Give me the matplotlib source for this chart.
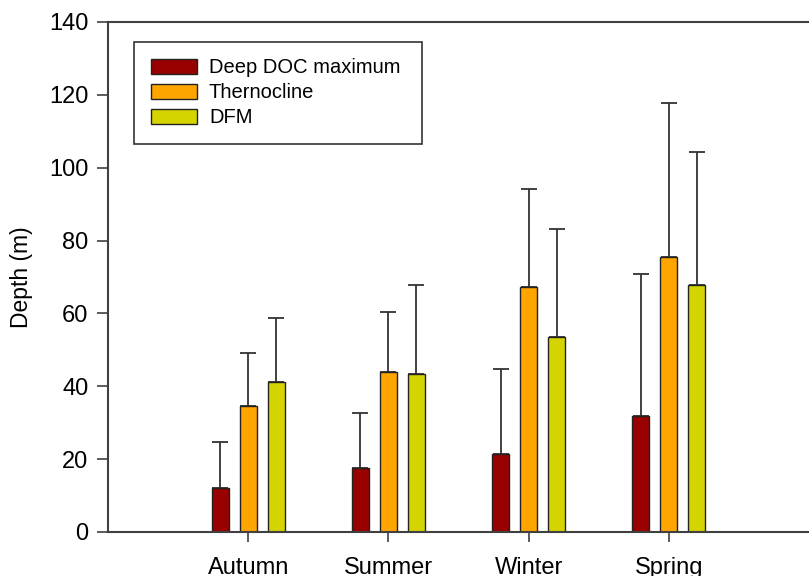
import matplotlib.pyplot as plt
import numpy as np

plt.rcParams['font.family'] = ['Liberation Sans', 'DejaVu Sans']

seasons = ['Autumn', 'Summer', 'Winter', 'Spring']
series = ['Deep DOC maximum', 'Thernocline', 'DFM']
colors = ['#990000', '#FFA500', '#D4D400']

# mean depth and upper end of the error bar (m)
means = [
    [12.2, 17.7, 21.5, 31.9],
    [34.7, 43.9, 67.3, 75.4],
    [41.3, 43.3, 53.6, 67.7],
]
upper = [
    [24.7, 32.7, 44.8, 70.8],
    [49.2, 60.5, 94.1, 117.7],
    [58.8, 67.9, 83.2, 104.2],
]

fig = plt.figure(figsize=(8.09, 5.76), dpi=100)
ax = fig.add_axes([108 / 809, 44 / 576, 701 / 809, 510 / 576])

x = np.arange(1, len(seasons) + 1)
width = 0.12
offsets = [-0.2, 0.0, 0.2]

for i in range(len(series)):
    m = np.array(means[i])
    err = np.array(upper[i]) - m
    ax.bar(x + offsets[i], m, width, color=colors[i], edgecolor='#222222',
           linewidth=1.0, label=series[i], zorder=2)
    ax.errorbar(x + offsets[i], m, yerr=[np.zeros_like(err), err], fmt='none',
                ecolor='#333333', elinewidth=1.3, capsize=5.5, capthick=1.3, zorder=1)

ax.set_xlim(0, 5)
ax.set_ylim(0, 140)
ax.set_xticks(x)
ax.set_xticklabels(seasons, fontsize=17)
ax.set_yticks(range(0, 141, 20))
ax.tick_params(axis='y', labelsize=17, length=8, width=1.2, color='#404040', pad=6)
ax.tick_params(axis='x', length=7, width=1.2, color='#404040', pad=11)
ax.set_ylabel('Depth (m)', fontsize=16.5, labelpad=12)

for side in ['top', 'bottom', 'left']:
    ax.spines[side].set_color('#404040')
    ax.spines[side].set_linewidth(1.5)
ax.spines['right'].set_visible(False)

leg = ax.legend(loc='upper left', bbox_to_anchor=(0.0371, 0.5, 0.411, 0.461),
                mode='expand', fontsize=14.5, frameon=True, fancybox=False,
                edgecolor='black', handlelength=2.3, handleheight=0.73,
                handletextpad=0.6, borderpad=0.82, labelspacing=0.3,
                borderaxespad=0)
leg.get_frame().set_linewidth(1.2)

fig.savefig('out.png', dpi=100)
